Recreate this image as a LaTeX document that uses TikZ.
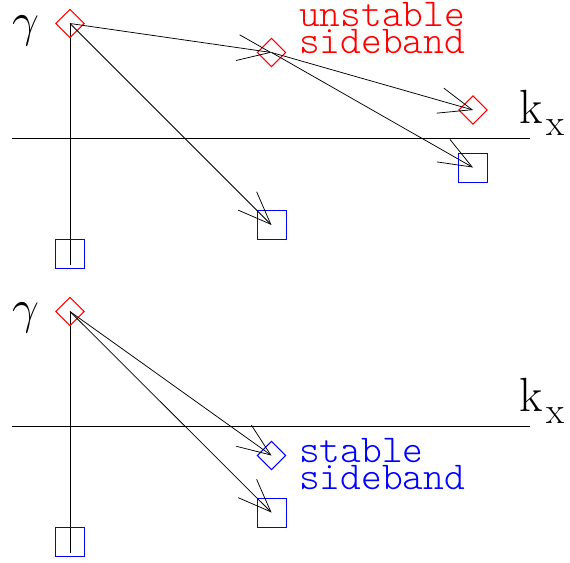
\RequirePackage{fix-cm}
\documentclass[tikz,border=0pt]{standalone}
\usetikzlibrary{shapes.geometric,arrows.meta}
\newcommand{\kxlabel}{k\hspace{4pt}\raisebox{-12pt}{\fontsize{37}{37}\selectfont x}}
\begin{document}
\begin{tikzpicture}[x=1pt,y=-1pt,
  axisline/.style={line width=1pt},
  ray/.style={line width=0.75pt,-{Straight Barb[length=33pt,width=26pt]}},
  rhomb/.style={diamond,draw,line width=1pt,minimum width=28.6pt,minimum height=28.6pt,inner sep=0pt},
  cell/.style={rectangle,draw,line width=1pt,minimum size=29pt,inner sep=0pt},
  sym/.style={inner sep=0pt,font=\fontsize{48}{48}\selectfont},
  band/.style={inner sep=0pt,align=left,anchor=base west,font=\ttfamily\fontseries{l}\fontsize{39.5}{27}\selectfont}]
\useasboundingbox (0,0) rectangle (570,562);

% upper panel: unstable sideband
\draw[axisline] (12,138) -- (530,138);
\draw[axisline] (70,23) -- (70,265);
\node[sym] (g1) at (25.5,30.5) {$\gamma$};
\node[sym,anchor=base west] (k1) at (519,123) {\kxlabel};

\node[rhomb,red] (u0) at (70,23.5) {};
\node[rhomb,red] (u1) at (271.5,52.5) {};
\node[rhomb,red] (u2) at (473,110) {};
\node[cell,blue] (l0) at (70,253.5) {};
\node[cell,blue] (l1) at (271.5,225) {};
\node[cell,blue] (l2) at (473,167.5) {};

\draw[ray] (u0.center) -- (u1.center);
\draw[ray] (u0.center) -- (l1.center);
\draw[ray] (u1.center) -- (u2.center);
\draw[ray] (u1.center) -- (l2.center);

\node[band,red] (t1) at (299,53) {unstable\\sideband};

% lower panel: stable sideband
\draw[axisline] (12,426) -- (530,426);
\draw[axisline] (70,311.5) -- (70,553);
\node[sym] (g2) at (25.5,318) {$\gamma$};
\node[sym,anchor=base west] (k2) at (519,411) {\kxlabel};

\node[rhomb,red] (s0) at (70,311.5) {};
\node[rhomb,blue] (s1) at (271.5,455.5) {};
\node[cell,blue] (m0) at (70,541.5) {};
\node[cell,blue] (m1) at (271.5,512.5) {};

\draw[ray] (s0.center) -- (s1.center);
\draw[ray] (s0.center) -- (m1.center);

\node[band,blue] (t2) at (299,489) {stable\\sideband};
\end{tikzpicture}
\end{document}
